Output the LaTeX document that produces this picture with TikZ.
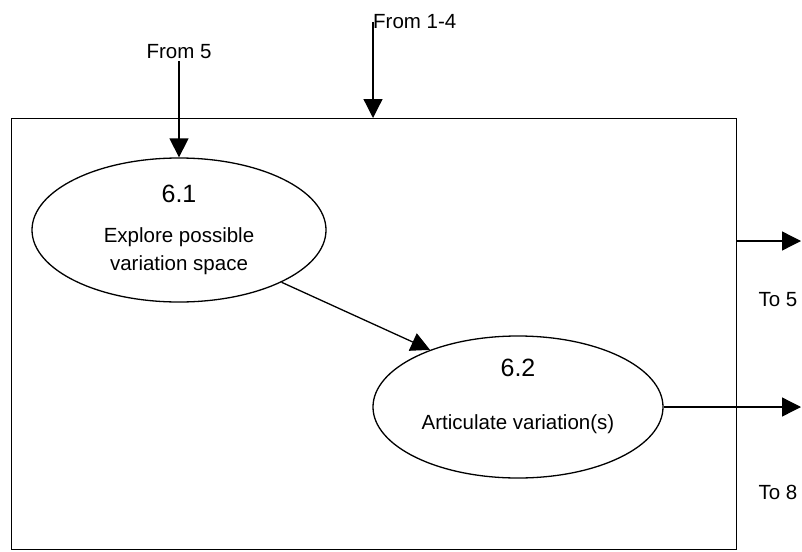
\documentclass[tikz,border=0pt]{standalone}
\usepackage{fontspec}
\setmainfont{Liberation Sans}
\usetikzlibrary{arrows.meta,shapes.geometric}
\begin{document}
\begin{tikzpicture}[x=1pt,y=-1pt,
  flow/.style={line width=1.3pt,-{Triangle[length=19pt,width=19pt]}},
  proc/.style={ellipse,draw,line width=1.3pt,inner sep=0pt},
  lbl/.style={inner sep=0pt,font=\fontsize{20.5}{28}\selectfont},
  num/.style={inner sep=0pt,font=\fontsize{25}{28}\selectfont}]
\useasboundingbox (0,0) rectangle (802,551);

% process frame
\node[draw,line width=1.3pt,minimum width=725pt,minimum height=431pt,
      inner sep=0pt,anchor=north west] (frame) at (11,118) {};

% sub-processes
\node[proc,minimum width=294pt,minimum height=144pt] (e1) at (179,230) {};
\node[num] (n61) at (179,194) {6.1};
\node[lbl,align=center] (t61) at (179,251) {Explore possible\\variation space};

\node[proc,minimum width=290pt,minimum height=142pt] (e2) at (518,407) {};
\node[num] (n62) at (518,368) {6.2};
\node[lbl] (t62) at (518,424) {Articulate variation(s)};

% inputs
\node[lbl] (f5) at (179,52) {From 5};
\draw[flow] (f5.south) ++(0,2) -- (e1.north);
\node[lbl,anchor=west] (f14) at (373,22) {From 1-4};
\draw[flow] (f14.west) -- (f14.west |- frame.north);

% internal flow
\draw[flow] (e1.-27) -- (e2.147);

% outputs
\coordinate (o1) at (801,241);
\coordinate (o2) at (801,407);
\draw[flow] (frame.east |- o1) -- (o1);
\draw[flow] (e2.east) -- (e2.east -| o2);
\node[lbl] (to5) at (778,300) {To 5};
\node[lbl] (to8) at (778,492) {To 8};
\end{tikzpicture}
\end{document}
